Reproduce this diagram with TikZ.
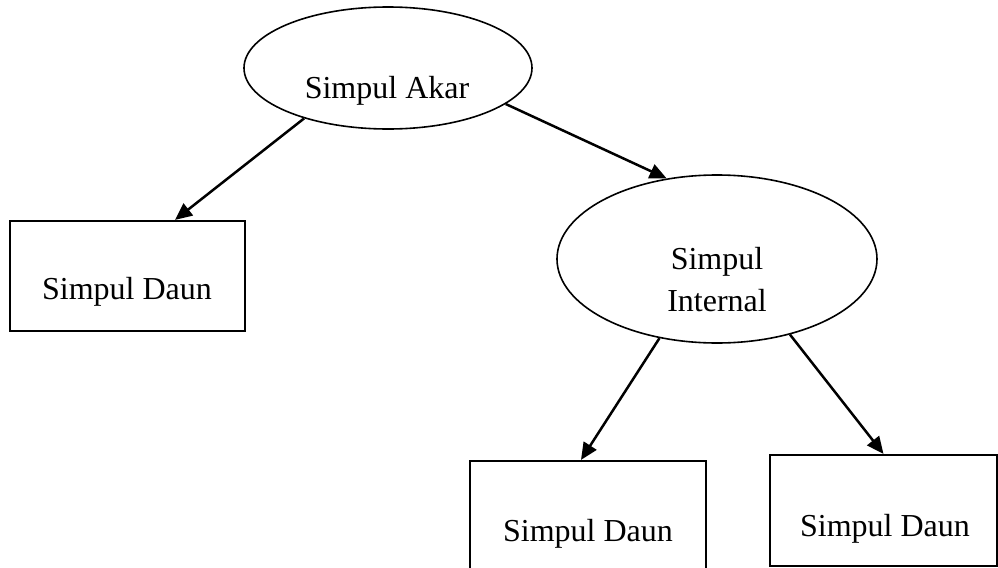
\documentclass[tikz,border=0pt]{standalone}
\usepackage{fontspec}
\setmainfont{Liberation Serif}
\usetikzlibrary{shapes.geometric,arrows.meta}
\begin{document}
\begin{tikzpicture}[x=0.5pt,y=-0.5pt,
  ell/.style={draw,ellipse,line width=0.8pt,inner sep=0pt},
  leaf/.style={draw,rectangle,line width=1.1pt,inner sep=0pt},
  lbl/.style={inner sep=0pt,anchor=base,font=\fontsize{16}{21}\selectfont},
  arr/.style={-{Triangle[length=8.5pt,width=7.5pt]},line width=1.25pt}]
\useasboundingbox (0,0) rectangle (998,568);
% shapes
\node[ell,minimum width=144pt,minimum height=61pt] (root) at (388,68) {};
\node[ell,minimum width=160pt,minimum height=84pt] (internal) at (717,259) {};
\node[leaf,minimum width=117.5pt,minimum height=55pt] (leafL) at (127.5,276) {};
\node[leaf,minimum width=118pt,minimum height=55pt] (leafM) at (588,516) {};
\node[leaf,minimum width=113.5pt,minimum height=55.5pt] (leafR) at (883.5,510.5) {};
% texts
\node[lbl] (rootT) at (387,98) {Simpul Akar};
\node[lbl,align=center,anchor=north] (internalT) at (717,247) {Simpul\\Internal};
\node[lbl] (leafLT) at (127,299) {Simpul Daun};
\node[lbl] (leafMT) at (588,541) {Simpul Daun};
\node[lbl] (leafRT) at (885,536) {Simpul Daun};
% connectors
\draw[arr] (root.211.7) -- ([xshift=23.75pt]leafL.north);
\draw[arr] (root.343.3) -- (internal.122);
\draw[arr] (internal.234) -- ([xshift=-3.5pt]leafM.north);
\draw[arr] (internal.314.2) -- (leafR.north);
\end{tikzpicture}
\end{document}
